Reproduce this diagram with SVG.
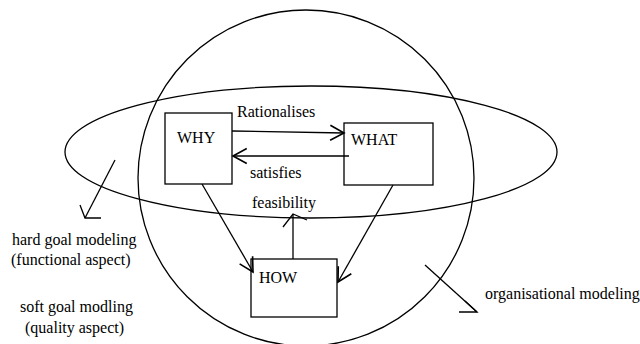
<svg xmlns="http://www.w3.org/2000/svg" width="640" height="344" viewBox="0 0 640 344">
<style>
.ln{fill:none;stroke:#000;stroke-width:1.3}
.bx{fill:#fff;stroke:#000;stroke-width:1.3}
.t{font-family:"Liberation Serif","Times New Roman",serif;font-size:16px;fill:#000}
</style>
<defs>
<marker id="ah" markerUnits="userSpaceOnUse" markerWidth="20" markerHeight="20" viewBox="-12 -8 14 16" refX="0" refY="0" orient="auto">
<path d="M-11,-6 L0,0 L-11,6" fill="none" stroke="#000" stroke-width="1.3"/>
</marker>
</defs>
<rect width="640" height="344" fill="#fff"/>
<g id="scopes">
<ellipse id="organisational-circle" class="ln" cx="306" cy="178" rx="168" ry="168"/>
<ellipse id="goal-ellipse" class="ln" cx="311" cy="152" rx="246" ry="66"/>
</g>
<g id="why"><rect class="bx" x="165" y="113" width="67" height="71"/><text class="t" x="177" y="143">WHY</text></g>
<g id="what"><rect class="bx" x="344" y="123" width="89" height="62"/><text class="t" x="351" y="145">WHAT</text></g>
<g id="how"><rect class="bx" x="251" y="259" width="86" height="58"/><text class="t" x="259" y="283">HOW</text></g>
<g id="connectors">
<line class="ln" x1="232" y1="131" x2="344" y2="133" marker-end="url(#ah)"/>
<line class="ln" x1="349" y1="156" x2="233" y2="156" marker-end="url(#ah)"/>
<line class="ln" x1="202" y1="184" x2="253" y2="272" marker-end="url(#ah)"/>
<line class="ln" x1="393" y1="185" x2="338" y2="282" marker-end="url(#ah)"/>
<line class="ln" x1="293" y1="259" x2="293" y2="214"/>
<polyline class="ln" points="283,227 293,214 307,220"/>
<line class="ln" x1="115" y1="160" x2="85" y2="218"/>
<polyline class="ln" points="80,205 85,218 101,218"/>
<line class="ln" x1="425" y1="265" x2="477" y2="312"/>
<polyline class="ln" points="465,301 477,312 459,312"/>
</g>
<g id="labels">
<text class="t" x="237" y="117">Rationalises</text>
<text class="t" x="250" y="178">satisfies</text>
<text class="t" x="252" y="208">feasibility</text>
<text class="t" x="12" y="245">hard goal modeling</text>
<text class="t" x="11" y="265">(functional aspect)</text>
<text class="t" x="20" y="312">soft goal modling</text>
<text class="t" x="25" y="333">(quality aspect)</text>
<text class="t" x="485" y="299">organisational modeling</text>
</g>
</svg>
